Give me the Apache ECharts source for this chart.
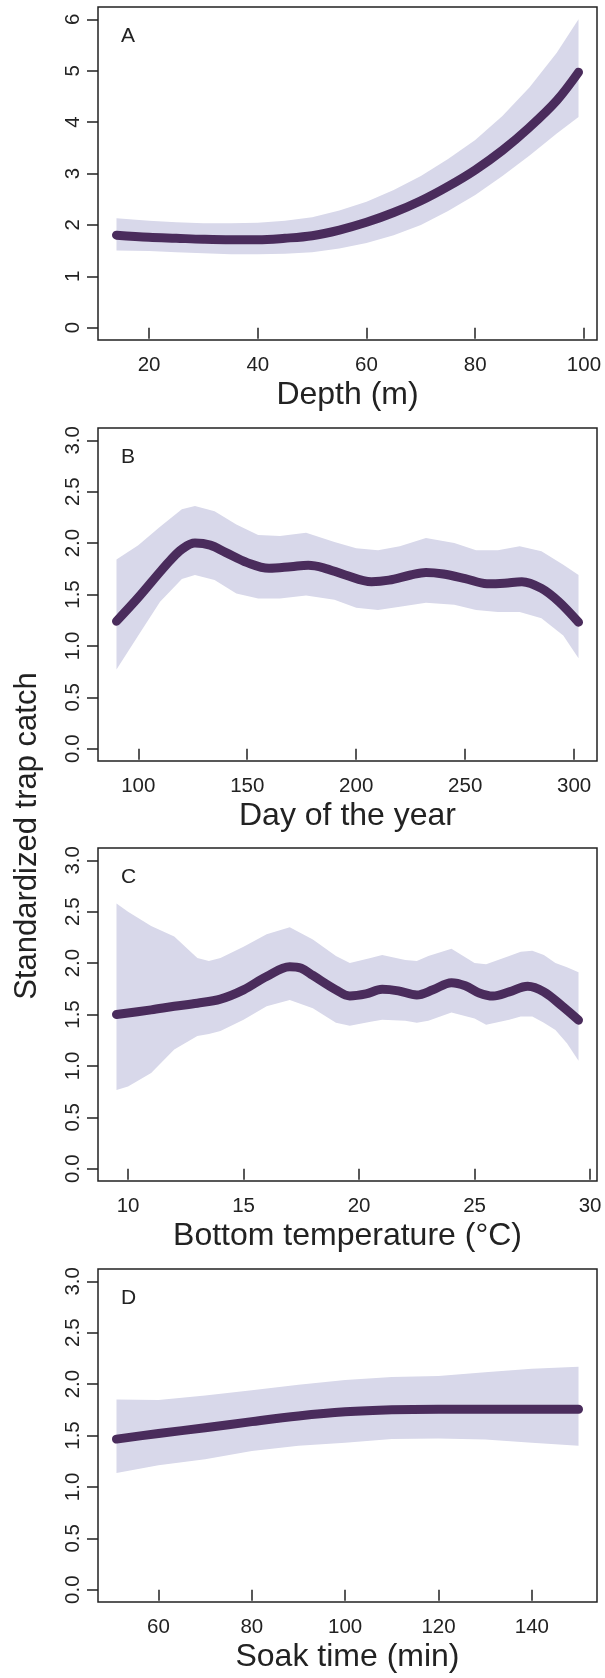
<!DOCTYPE html>
<html>
<head>
<meta charset="utf-8">
<script src="https://cdn.jsdelivr.net/npm/echarts@6/dist/echarts.min.js"></script>
<style>
  html, body { margin: 0; padding: 0; background: #fff; }
  #chart { width: 605px; height: 1678px; }
</style>
</head>
<body>
<div id="chart"></div>
<script>
  // ---- data ----
  // A: depth
  const depthX   = [14, 20, 25, 30, 35, 40, 45, 50, 55, 60, 65, 70, 75, 80, 85, 90, 95, 99];
  const depthFit = [1.80, 1.76, 1.74, 1.72, 1.71, 1.71, 1.74, 1.79, 1.90, 2.05, 2.24, 2.47, 2.75, 3.07, 3.45, 3.90, 4.42, 4.97];
  const depthLo  = [1.50, 1.49, 1.47, 1.45, 1.43, 1.43, 1.44, 1.47, 1.54, 1.65, 1.80, 2.00, 2.27, 2.58, 2.95, 3.35, 3.78, 4.10];
  const depthHi  = [2.13, 2.08, 2.05, 2.03, 2.03, 2.04, 2.08, 2.15, 2.28, 2.45, 2.68, 2.95, 3.28, 3.65, 4.12, 4.68, 5.35, 6.00];

  // B: day of the year
  const dayX   = [90, 100, 110, 115, 120, 126, 133, 140, 150, 160, 170, 178, 185, 195, 207, 215, 225, 232, 240, 250, 260, 268, 276, 285, 293, 302];
  const dayFit = [1.24, 1.47, 1.72, 1.84, 1.94, 2.00, 1.98, 1.91, 1.81, 1.755, 1.77, 1.785, 1.76, 1.69, 1.625, 1.64, 1.69, 1.715, 1.70, 1.655, 1.605, 1.61, 1.625, 1.56, 1.43, 1.23];
  const dayBandX = [90, 100, 110, 120, 126, 135, 145, 155, 165, 177, 190, 200, 210, 220, 232, 245, 255, 265, 275, 285, 295, 302];
  const dayLo    = [0.77, 1.10, 1.43, 1.65, 1.69, 1.64, 1.51, 1.46, 1.46, 1.49, 1.45, 1.37, 1.35, 1.38, 1.42, 1.40, 1.35, 1.33, 1.33, 1.27, 1.10, 0.88];
  const dayHi    = [1.84, 1.98, 2.16, 2.33, 2.36, 2.31, 2.18, 2.08, 2.07, 2.10, 2.01, 1.95, 1.93, 1.97, 2.05, 2.00, 1.93, 1.93, 1.97, 1.92, 1.79, 1.69];

  // C: bottom temperature
  const tempX   = [9.5, 11, 12, 13, 14, 15, 16, 17, 17.5, 18, 19, 19.6, 20.3, 21, 21.7, 22.5, 23.2, 24, 24.6, 25.2, 25.8, 26.5, 27.3, 28, 28.8, 29.5];
  const tempFit = [1.50, 1.545, 1.58, 1.61, 1.65, 1.74, 1.87, 1.965, 1.95, 1.88, 1.74, 1.68, 1.70, 1.745, 1.73, 1.69, 1.74, 1.81, 1.78, 1.71, 1.68, 1.72, 1.775, 1.72, 1.58, 1.445];
  const tempBandX = [9.5, 10, 11, 12, 13, 13.5, 14, 15, 16, 17, 18, 19, 19.6, 20.5, 21, 22, 22.5, 23, 24, 25, 25.5, 26.5, 27, 27.5, 28, 28.5, 29, 29.5];
  const tempLo    = [0.765, 0.80, 0.93, 1.16, 1.29, 1.31, 1.34, 1.45, 1.58, 1.64, 1.56, 1.42, 1.39, 1.43, 1.45, 1.44, 1.42, 1.44, 1.52, 1.46, 1.40, 1.45, 1.48, 1.48, 1.42, 1.35, 1.22, 1.05];
  const tempHi    = [2.58, 2.50, 2.36, 2.26, 2.05, 2.02, 2.05, 2.16, 2.28, 2.35, 2.23, 2.07, 2.00, 2.05, 2.08, 2.03, 2.02, 2.07, 2.14, 2.00, 1.99, 2.07, 2.11, 2.12, 2.08, 2.00, 1.96, 1.91];

  // D: soak time
  const soakX   = [51, 60, 70, 80, 90, 100, 110, 120, 130, 140, 150];
  const soakFit = [1.465, 1.52, 1.575, 1.635, 1.69, 1.73, 1.75, 1.755, 1.755, 1.755, 1.755];
  const soakLo  = [1.135, 1.21, 1.27, 1.35, 1.40, 1.43, 1.465, 1.47, 1.46, 1.43, 1.40];
  const soakHi  = [1.85, 1.845, 1.89, 1.94, 1.995, 2.04, 2.07, 2.08, 2.115, 2.15, 2.17];

  // tick labels
  const depthTicks = [20, 40, 60, 80, 100];
  const dayTicks   = [100, 150, 200, 250, 300];
  const tempTicks  = [10, 15, 20, 25, 30];
  const soakTicks  = [60, 80, 100, 120, 140];
  const catchTicksA = [0, 1, 2, 3, 4, 5, 6];
  const catchTicks  = [0, 0.5, 1, 1.5, 2, 2.5, 3];

  const panels = [
    {letter: 'A', name: 'Depth (m)', x: depthX, fit: depthFit, bx: depthX, lo: depthLo, hi: depthHi, xt: depthTicks, yt: catchTicksA, ymax: 6, dec: 0},
    {letter: 'B', name: 'Day of the year', x: dayX, fit: dayFit, bx: dayBandX, lo: dayLo, hi: dayHi, xt: dayTicks, yt: catchTicks, ymax: 3, dec: 1},
    {letter: 'C', name: 'Bottom temperature (°C)', x: tempX, fit: tempFit, bx: tempBandX, lo: tempLo, hi: tempHi, xt: tempTicks, yt: catchTicks, ymax: 3, dec: 1},
    {letter: 'D', name: 'Soak time (min)', x: soakX, fit: soakFit, bx: soakX, lo: soakLo, hi: soakHi, xt: soakTicks, yt: catchTicks, ymax: 3, dec: 1}
  ];

  const FONT = '"Liberation Sans", Arial, Helvetica, sans-serif';
  const INK = '#222';
  const gridTops = [7, 428, 848, 1269];
  const gridH = 333;

  let grids = [], xAxes = [], yAxes = [], series = [], graphics = [];

  panels.forEach((p, i) => {
    const x0 = p.x[0], x1 = p.x[p.x.length - 1];
    const pad = (x1 - x0) * 0.04;   // R style axis padding
    const ypad = p.ymax * 0.04;

    grids.push({
      left: 98, width: 499, top: gridTops[i], height: gridH,
      show: true, borderColor: INK, borderWidth: 1.5, backgroundColor: 'transparent'
    });
    xAxes.push({
      type: 'value', gridIndex: i, min: x0 - pad, max: x1 + pad,
      name: p.name, nameLocation: 'middle', nameGap: 39,
      nameTextStyle: {fontFamily: FONT, fontSize: 32, color: INK},
      axisLine: {show: false},
      splitLine: {show: false},
      axisTick: {show: true, length: 11, customValues: p.xt, lineStyle: {color: INK, width: 1.5}},
      axisLabel: {customValues: p.xt, margin: 15, fontFamily: FONT, fontSize: 20.5, color: INK}
    });
    yAxes.push({
      type: 'value', gridIndex: i, min: -ypad, max: p.ymax + ypad,
      axisLine: {show: false},
      splitLine: {show: false},
      axisTick: {show: true, length: 11, customValues: p.yt, lineStyle: {color: INK, width: 1.5}},
      axisLabel: {
        customValues: p.yt, rotate: 90, margin: 14, fontFamily: FONT, fontSize: 20.5, color: INK,
        formatter: v => Number(v).toFixed(p.dec)
      }
    });

    // confidence band as a polygon through the axis scales
    series.push({
      type: 'custom', xAxisIndex: i, yAxisIndex: i, z: 1, silent: true,
      data: p.bx.map((v, k) => [v, p.lo[k], p.hi[k]]),
      renderItem: (params, api) => {
        if (params.dataIndex !== 0) return;
        const pts = [];
        p.bx.forEach((v, k) => pts.push(api.coord([v, p.hi[k]])));
        for (let k = p.bx.length - 1; k >= 0; k--) pts.push(api.coord([p.bx[k], p.lo[k]]));
        return {type: 'polygon', shape: {points: pts}, style: {fill: '#d8d8ea', stroke: null}};
      }
    });
    series.push({
      type: 'line', xAxisIndex: i, yAxisIndex: i, z: 3, silent: true,
      data: p.x.map((v, k) => [v, p.fit[k]]),
      smooth: 0.35, showSymbol: false,
      lineStyle: {color: '#4a2c5c', width: 9, cap: 'round', join: 'round'}
    });

    graphics.push({
      type: 'text', left: 121, top: gridTops[i] + 19,
      style: {text: p.letter, font: '21px ' + FONT, fill: INK}
    });
  });

  graphics.push({
    type: 'text', x: 27, y: 836, rotation: Math.PI / 2,
    style: {text: 'Standardized trap catch', font: '31px ' + FONT, fill: INK,
            textAlign: 'center', textVerticalAlign: 'middle'}
  });

  const chart = echarts.init(document.getElementById('chart'));
  chart.setOption({
    animation: false,
    backgroundColor: '#fff',
    grid: grids,
    xAxis: xAxes,
    yAxis: yAxes,
    series: series,
    graphic: graphics
  });
</script>
</body>
</html>
